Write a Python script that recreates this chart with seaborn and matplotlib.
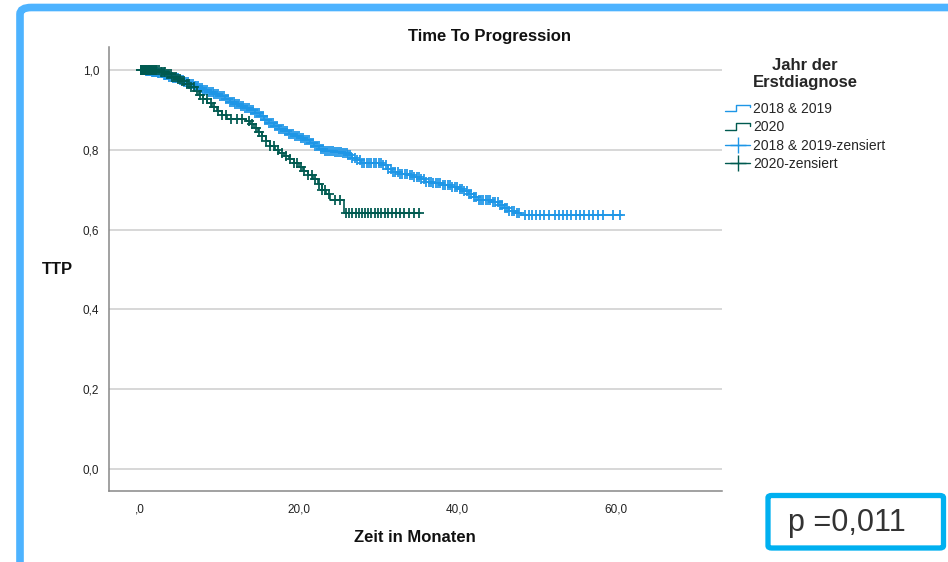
import numpy as np
import matplotlib
matplotlib.use("Agg")
import matplotlib.pyplot as plt
import seaborn as sns
from matplotlib.lines import Line2D
from matplotlib.patches import FancyBboxPatch
from matplotlib.legend_handler import HandlerBase

# ---- data ----
blue_label = "2018 & 2019"
green_label = "2020"

blue_t = [0, 0.8, 1.5, 2.2, 3.0, 3.6, 4.2, 4.9, 5.5, 6.1, 6.8, 7.4, 8.0, 8.7, 9.4, 10.0,
          10.7, 11.3, 11.9, 12.6, 13.2, 13.9, 14.5, 15.1, 15.7, 16.3, 16.9, 17.5, 18.1,
          18.8, 19.5, 20.2, 20.8, 21.4, 22.0, 22.6, 23.2, 24.5, 25.5, 26.1, 26.7, 27.3,
          27.9, 30.7, 31.3, 31.8, 32.8, 33.8, 34.6, 35.3, 35.9, 37.0, 38.2, 39.2, 40.2,
          40.9, 41.5, 42.1, 42.6, 44.3, 45.2, 45.9, 46.6, 47.3, 48.0, 60.8]
blue_s = [1.0, 0.998, 0.995, 0.993, 0.988, 0.984, 0.98, 0.976, 0.971, 0.966, 0.96, 0.955,
          0.95, 0.945, 0.94, 0.935, 0.928, 0.921, 0.915, 0.91, 0.905, 0.899, 0.892, 0.884,
          0.876, 0.868, 0.86, 0.853, 0.847, 0.841, 0.836, 0.83, 0.824, 0.818, 0.81, 0.803,
          0.798, 0.795, 0.792, 0.787, 0.781, 0.774, 0.767, 0.762, 0.753, 0.744, 0.74,
          0.736, 0.731, 0.726, 0.72, 0.716, 0.712, 0.708, 0.703, 0.697, 0.69, 0.682, 0.675,
          0.669, 0.662, 0.655, 0.648, 0.642, 0.636, 0.636]
blue_cens = [0.1, 0.15, 0.2, 0.3, 0.35, 0.4, 0.5, 0.55, 0.6, 0.7, 0.75, 0.8, 0.9, 0.95, 1.0,
             1.1, 1.2, 1.3, 1.4, 1.5, 1.6, 1.7, 1.8, 1.9, 2.0, 2.15, 2.3, 2.45, 2.6, 2.75,
             2.9, 3.05, 3.2, 3.35, 3.5, 3.7, 3.9, 4.05, 4.2, 4.4, 4.6, 4.8, 5.0, 5.2, 5.4,
             5.6, 5.8, 6.0, 6.2, 6.45, 6.7, 6.9, 7.1, 7.35, 7.6, 7.8, 8.0, 8.25, 8.5, 8.75,
             9.0, 9.2, 9.4, 9.65, 9.9, 10.15, 10.4, 10.65, 10.9, 11.1, 11.3, 11.55, 11.8,
             12.05, 12.3, 12.55, 12.8, 13.05, 13.3, 13.55, 13.8, 14.05, 14.3, 14.55, 14.8,
             15.05, 15.3, 15.55, 15.8, 16.05, 16.3, 16.55, 16.8, 17.05, 17.3, 17.55, 17.8,
             18.05, 18.3, 18.55, 18.8, 19.05, 19.3, 19.55, 19.8, 20.05, 20.3, 20.55, 20.8,
             21.05, 21.3, 21.55, 21.8, 22.05, 22.3, 22.55, 22.8, 23.05, 23.3, 23.55, 23.8,
             24.05, 24.3, 24.55, 24.8, 25.05, 25.3, 25.55, 25.8, 26.05, 26.3, 26.55, 26.8,
             27.1, 27.4, 27.7, 28.0, 28.3, 28.6, 28.9, 29.2, 29.5, 29.8, 30.1, 30.4, 30.7,
             31.0, 31.3, 31.6, 31.9, 32.2, 32.5, 32.8, 33.1, 33.4, 33.7, 34.0, 34.3, 34.6,
             34.9, 35.2, 35.5, 35.8, 36.1, 36.4, 36.7, 37.0, 37.3, 37.6, 37.9, 38.2, 38.5,
             38.8, 39.1, 39.4, 39.7, 40.0, 40.3, 40.6, 40.9, 41.2, 41.5, 41.8, 42.1, 42.4,
             42.7, 43.0, 43.3, 43.6, 43.9, 44.2, 44.5, 44.8, 45.1, 45.4, 45.7, 46.0, 46.3,
             46.6, 46.9, 47.2, 47.5, 47.8, 48.5, 49.0, 49.4, 49.9, 50.5, 51.0, 51.6, 52.3,
             52.8, 53.3, 53.9, 54.4, 55.0, 55.5, 56.0, 56.6, 57.1, 57.8, 58.4, 59.6, 60.5]

green_t = [0, 2.5, 3.3, 4.0, 4.6, 5.2, 5.8, 6.4, 6.9, 7.4, 7.9, 8.5, 9.1, 9.7, 10.3, 11.0,
           13.4, 13.9, 14.4, 14.9, 15.4, 15.9, 16.4, 17.0, 17.6, 18.2, 18.8, 19.4, 20.0,
           20.6, 21.2, 21.8, 22.4, 23.0, 23.5, 24.0, 25.7, 35.3]
green_s = [1.0, 0.996, 0.99, 0.984, 0.978, 0.972, 0.965, 0.957, 0.948, 0.938, 0.928, 0.918,
           0.907, 0.897, 0.888, 0.877, 0.872, 0.864, 0.855, 0.845, 0.834, 0.822, 0.81, 0.8,
           0.792, 0.784, 0.776, 0.766, 0.756, 0.746, 0.736, 0.726, 0.715, 0.70, 0.69,
           0.675, 0.642, 0.642]
green_cens = [0.1, 0.15, 0.2, 0.25, 0.3, 0.35, 0.4, 0.45, 0.5, 0.55, 0.6, 0.65, 0.7, 0.8,
              0.9, 1.0, 1.1, 1.2, 1.3, 1.4, 1.5, 1.6, 1.75, 1.9, 2.05, 2.2, 2.4, 2.6, 2.8,
              3.0, 3.2, 3.4, 3.65, 3.9, 4.1, 4.3, 4.55, 4.8, 5.05, 5.3, 5.6, 5.9, 6.2, 6.5,
              6.85, 7.2, 7.6, 8.0, 8.45, 8.9, 9.35, 9.8, 10.3, 10.8, 11.5, 12.2, 12.9,
              13.7, 14.15, 14.6, 15.0, 15.4, 15.9, 16.4, 16.9, 17.4, 17.9, 18.4, 18.9, 19.4,
              19.85, 20.3, 20.75, 21.2, 21.65, 22.1, 22.55, 23.0, 23.4, 23.8, 24.6, 25.2,
              26.0, 26.4, 26.8, 27.2, 27.6, 28.0, 28.4, 28.8, 29.2, 29.6, 30.0, 30.4, 30.9,
              31.3, 31.8, 32.3, 32.8, 33.3, 33.9, 34.5, 35.2]

y_ticks = [0.0, 0.2, 0.4, 0.6, 0.8, 1.0]
y_ticklabels = ["0,0", "0,2", "0,4", "0,6", "0,8", "1,0"]
x_ticks = [0, 20, 40, 60]
x_ticklabels = [",0", "20,0", "40,0", "60,0"]

BLUE = "#1E96E6"
GREEN = "#005A50"

sns.set_style("white")
plt.rcParams["font.family"] = ["Liberation Sans", "DejaVu Sans"]

W, H = 948, 562
fig = plt.figure(figsize=(W / 100, H / 100), dpi=100)
ax = fig.add_axes([109 / W, 1 - 491 / H, (722 - 109) / W, (491 - 47) / H])


def surv_at(t_arr, s_arr, c_arr):
    t_arr = np.asarray(t_arr)
    s_arr = np.asarray(s_arr)
    idx = np.searchsorted(t_arr, np.asarray(c_arr), side="right") - 1
    return s_arr[idx]


for t, s, c, col in [(blue_t, blue_s, blue_cens, BLUE), (green_t, green_s, green_cens, GREEN)]:
    sns.lineplot(x=t, y=s, ax=ax, color=col, drawstyle="steps-post", estimator=None,
                 linewidth=1.2, legend=False)
    sns.scatterplot(x=c, y=surv_at(t, s, c), ax=ax, color=col, marker="+", s=42,
                    linewidth=1.4, alpha=0.9, legend=False, zorder=3)

ax.set_xlim(-3.9, 73.4)
ax.set_ylim(-0.055, 1.058)
ax.set_yticks(y_ticks)
ax.set_yticklabels(y_ticklabels, fontsize=8.5)
ax.set_xticks(x_ticks)
ax.set_xticklabels(x_ticklabels, fontsize=8.5)
ax.tick_params(axis="both", length=0, colors="#222222")
ax.tick_params(axis="x", pad=9)
ax.tick_params(axis="y", pad=7)
ax.yaxis.grid(True, color="#d4d4d4", linewidth=1.3)
ax.xaxis.grid(False)
ax.set_axisbelow(True)
for sp in ["top", "right"]:
    ax.spines[sp].set_visible(False)
for sp in ["left", "bottom"]:
    ax.spines[sp].set_color("#888888")
    ax.spines[sp].set_linewidth(1.1)
ax.set_xlabel("")
ax.set_ylabel("")

fig.text(490 / W, 1 - 37 / H, "Time To Progression", ha="center", va="center",
         fontsize=12, fontweight="bold", color="#111111")
fig.text(415 / W, 1 - 537 / H, "Zeit in Monaten", ha="center", va="center",
         fontsize=12, fontweight="bold", color="#111111")
fig.text(57 / W, 1 - 270 / H, "TTP", ha="center", va="center",
         fontsize=12, fontweight="bold", color="#111111")


class HandlerStep(HandlerBase):
    def create_artists(self, legend, orig_handle, xdescent, ydescent, width, height,
                       fontsize, trans):
        xs = np.array([0.0, 0.45, 0.45, 1.0, 1.0]) * width - xdescent
        ys = np.array([0.15, 0.15, 0.8, 0.8, 0.55]) * height - ydescent
        ln = Line2D(xs, ys, color=orig_handle.get_color(), lw=1.0)
        ln.set_transform(trans)
        return [ln]


h1 = Line2D([], [], color=BLUE)
h2 = Line2D([], [], color=GREEN)
h3 = Line2D([], [], color=BLUE, marker="+", markersize=12, lw=1.0, markeredgewidth=1.0)
h4 = Line2D([], [], color=GREEN, marker="+", markersize=12, lw=1.0, markeredgewidth=1.0)
leg = ax.legend([h1, h2, h3, h4],
                [blue_label, green_label, blue_label + "-zensiert", green_label + "-zensiert"],
                handler_map={h1: HandlerStep(), h2: HandlerStep()},
                loc="upper left", bbox_to_anchor=(725 / W, 1 - 58 / H),
                bbox_transform=fig.transFigure, frameon=False, fontsize=10,
                title="Jahr der\nErstdiagnose",
                title_fontproperties={"weight": "bold", "size": 12},
                handlelength=1.8, handletextpad=0.2, labelspacing=0.33,
                borderpad=0, borderaxespad=0)
leg.get_title().set_multialignment("center")
leg._legend_box.sep = 8

# outer blue frame
frame = FancyBboxPatch((20 / W, -0.2), 1.2, (1 - 7.5 / H) + 0.2,
                       boxstyle="round,pad=0,rounding_size=0.012",
                       transform=fig.transFigure, facecolor="none",
                       edgecolor="#4DB3FF", linewidth=5.5, zorder=10)
fig.patches.append(frame)

# p-value box
pbox = FancyBboxPatch((768 / W, 1 - 548 / H), (943.5 - 768) / W, (548 - 495.5) / H,
                      boxstyle="round,pad=0,rounding_size=0.004",
                      transform=fig.transFigure, facecolor="white",
                      edgecolor="#00B0F0", linewidth=3.8, zorder=10)
fig.patches.append(pbox)
fig.text(847 / W, 1 - 523 / H, "p =0,011", ha="center", va="center",
         fontsize=22, color="#333333", zorder=11)

fig.savefig("out.png", dpi=100)
